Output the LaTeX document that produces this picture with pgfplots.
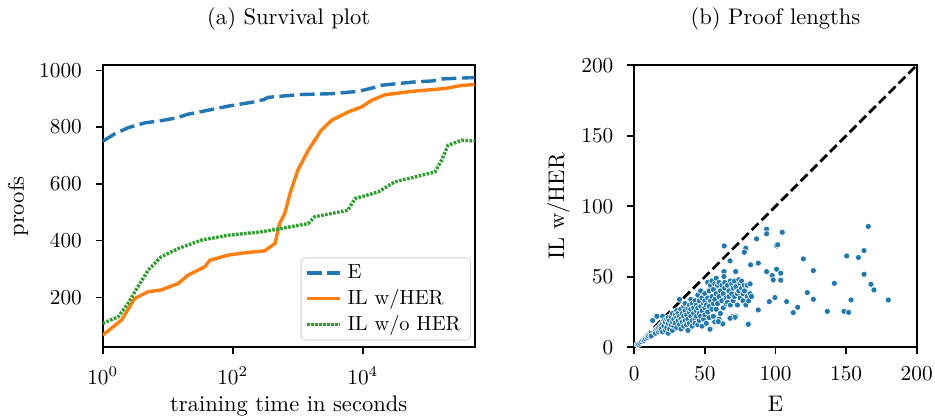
\documentclass[border=0pt]{standalone}
\usepackage{pgfplots}
\pgfplotsset{compat=1.18}
\definecolor{mplblue}{HTML}{1F77B4}
\definecolor{mplorange}{HTML}{FF7F0E}
\definecolor{mplgreen}{HTML}{2CA02C}

\pgfplotsset{
  common/.style={
    scale only axis,
    font=\fontsize{10.6pt}{12.7pt}\selectfont,
    axis line style={line width=0.8pt},
    tick align=outside,
    major tick length=3.3pt,
    every tick/.style={black,line width=0.8pt},
    minor tick num=0,
    xtick pos=bottom, ytick pos=left,
    tick label style={font=\fontsize{10.2pt}{12pt}\selectfont},
    xticklabel style={yshift=-2.5pt},
    yticklabel style={xshift=-3pt},
    /pgf/number format/set thousands separator={},
    title style={at={(0.5,1)},anchor=base,yshift=13.3pt},
    xlabel style={at={(axis description cs:0.5,0)},anchor=base,yshift=-30pt},
  },
}

\begin{document}
\begin{tikzpicture}
\useasboundingbox (0,0) rectangle (439.45pt,196.46pt);

% (a) survival plot
\begin{axis}[common,
  at={(48.27pt,33.23pt)}, anchor=south west,
  width=174.84pt, height=132.54pt,
  xmode=log, xmin=1, xmax=525000,
  ymin=24, ymax=1018,
  xtick={1,100,10000},
  ytick={200,400,600,800,1000},
  title={(a) Survival plot},
  xlabel={training time in seconds},
  ylabel={proofs},
  ylabel style={at={([xshift=-37pt]axis description cs:0,0.5)},anchor=base},
  legend style={at={(rel axis cs:0.99,0.024)},anchor=south east,
    font=\fontsize{9.6pt}{11pt}\selectfont,
    draw=black!18,rounded corners=2pt,fill=white,
    inner xsep=2pt,inner ysep=1.2pt,row sep=0pt,
    nodes={inner ysep=1.8pt,inner xsep=2.6pt},
    cells={anchor=west}},
  legend image code/.code={\draw[#1] (0cm,0cm) -- (0.55cm,0cm);},
]
\addplot[mplblue,line width=1.6pt,dash pattern=on 7pt off 2.6pt] coordinates {
(1,750)(1.5,775)(2.45,798)(4.43,815)(8,823)(14,833)(20,845)(30,853)(85,874)(200,888)(300,897)(350,905)(1100,915)(3500,918)(7500,925)(10000,930)(14000,938)(20000,948)(30000,952)(60000,959)(120000,963)(170000,970)(525000,975)};
\addlegendentry{E}
\addplot[mplorange,line width=1.6pt] coordinates {
(1,67)(1.95,120)(3.09,196)(5.01,220)(7.94,226)(14.5,249)(20.4,278)(37.2,308)(44.7,331)(85.1,349)(151,357)(309,364)(447,390)(525,460)(631,496)(759,566)(1000,648)(1445,718)(2291,789)(3311,824)(5888,853)(9550,871)(13490,894)(21880,914)(56230,926)(182000,936)(331100,947)(524800,950)};
\addlegendentry{IL w/HER}
\addplot[mplgreen,line width=1.6pt,dash pattern=on 1.2pt off 0.7pt] coordinates {
(1,108)(1.74,132)(2.45,179)(3.47,237)(5.01,296)(7.94,343)(14.5,372)(33.1,402)(85.1,419)(275,431)(562,443)(1445,460)(1820,484)(5888,507)(7586,548)(17380,572)(30900,607)(128800,642)(162200,683)(204200,736)(331100,754)(524800,751)};
\addlegendentry{IL w/o HER}
\end{axis}

% (b) proof lengths
\begin{axis}[common,
  at={(298.12pt,33.23pt)}, anchor=south west,
  width=132.73pt, height=132.54pt,
  xmin=0, xmax=200, ymin=0, ymax=200,
  xtick={0,50,100,150,200},
  ytick={0,50,100,150,200},
  title={(b) Proof lengths},
  xlabel={E},
  ylabel={IL w/HER},
  ylabel style={at={([xshift=-33pt]axis description cs:0,0.5)},anchor=base},
]
\addplot[only marks,mark=*,mark size=1.45pt,
  mark options={fill=mplblue,draw=white,line width=0.3pt}] coordinates {
(2,2)(3,2)(4,3)(5,4)(6,5)(7,5)(8,6)(9,7)(10,8)(11,9)(12,10)(12,8)(13,19)(14,11)(15,12)(15,10)(16,22)(16,13)(17,14)(17,11)(18,15)(18,12)(19,16)(19,13)(20,22)(20,17)(20,11)
(21,15)(21,19)(22,18)(22,12)(23,20)(23,14)(24,17)(24,21)(24,10)(25,19)(25,13)(26,22)(26,16)(27,18)(27,24)(27,12)(28,20)(28,15)(29,23)(29,17)(30,21)(30,26)(30,14)(31,19)(31,24)(32,34)(32,22)(32,16)(33,27)(33,20)(33,13)(34,24)(34,18)(35,29)(35,22)(35,15)
(36,26)(36,19)(36,31)(37,23)(37,16)(38,28)(38,20)(38,12)(39,30)(39,25)(39,17)(40,34)(40,22)(40,27)(41,19)(41,31)(41,15)(42,28)(42,24)(43,33)(43,20)(43,17)(44,26)(44,30)(44,22)(45,37)(45,16)(45,28)(46,24)(46,33)(46,19)(47,40)(47,29)(47,22)(48,35)(48,26)(48,15)(49,31)(49,20)(50,38)(50,28)(50,23)(50,33)
(51,17)(51,30)(52,46)(52,25)(52,35)(53,21)(53,40)(53,29)(54,13)(54,33)(54,44)(55,27)(55,47)(55,36)(56,22)(56,41)(56,31)(57,45)(57,18)(57,34)(58,49)(58,38)(58,27)(59,44)(59,31)(60,20)(60,36)(60,46)(61,24)(61,40)(62,33)(62,44)(63,17)(63,38)(63,28)(64,54)(64,42)(64,46)(65,35)(65,31)
(66,44)(66,32)(67,40)(67,36)(68,47)(68,30)(69,45)(69,38)(70,42)(70,33)(70,22)(71,47)(71,36)(72,54)(72,43)(72,22)(73,38)(73,30)(74,48)(74,40)(75,45)(75,35)(76,42)(76,47)(77,38)(77,33)(78,44)(78,40)(79,30)(80,36)(80,44)(81,33)(81,17)(82,45)(82,38)(83,36)
(93.7,83.8)(93.7,80.5)(104.8,81.6)(86.6,76.9)(100.8,71.9)(101.5,72.7)(63.7,71.9)(78.9,70.3)(77.9,67.4)(67.8,61.3)(82.4,58.5)(87.8,59.7)(119.7,62.7)(126.8,54.4)(93.7,53.7)(97.7,50.9)(98.4,47.8)(100.8,55.4)(103.7,52.6)(103.7,47.6)(95.6,32.4)(99.6,35.3)(107.9,32.4)(112.6,24.6)(115.7,28.4)(122.5,38.8)(126.8,34.1)(136.7,25.5)(141.7,45.4)(150.4,64.8)(148.5,25.5)(151.8,24.8)(153.5,33.6)(158.7,63.7)(162.7,68.6)(162.7,51.8)(165.7,85.7)(167.6,44.7)(169.7,40.7)(179.9,33.6)(87.8,26.5)(80.7,16.3)(71.3,21.3)(67.8,20.6)(71.8,53.7)(63.5,53.7)(63.5,50.2)(62.6,16.6)(59.5,18.2)(53.6,12.8)
};
\addplot[black,line width=1.3pt,dash pattern=on 4.5pt off 2pt] coordinates {(0,0)(200,200)};
\end{axis}
\end{tikzpicture}
\end{document}
